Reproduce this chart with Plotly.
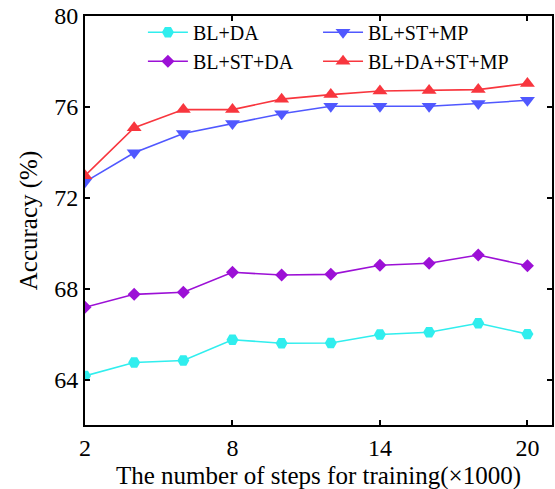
import plotly.graph_objects as go

steps = [2, 4, 6, 8, 10, 12, 14, 16, 18, 20]
bl_da = [64.16, 64.75, 64.84, 65.75, 65.60, 65.61, 65.98, 66.08, 66.48, 66.00]
bl_st_da = [67.18, 67.75, 67.84, 68.72, 68.60, 68.63, 69.03, 69.12, 69.48, 69.01]
bl_st_mp = [72.70, 73.98, 74.83, 75.27, 75.70, 76.03, 76.03, 76.03, 76.15, 76.29]
bl_da_st_mp = [72.97, 75.08, 75.88, 75.88, 76.34, 76.54, 76.70, 76.72, 76.76, 77.03]

xticks = [2, 8, 14, 20]
yticks = [64, 68, 72, 76, 80]

FONT = "Liberation Serif, Times New Roman, serif"

series = [
    ("BL+DA", bl_da, "#30EEEE", "hexagon2", 12, "legend"),
    ("BL+ST+DA", bl_st_da, "#9C10D6", "diamond", 10, "legend2"),
    ("BL+ST+MP", bl_st_mp, "#5058FF", "triangle-down", 13, "legend3"),
    ("BL+DA+ST+MP", bl_da_st_mp, "#F8363E", "triangle-up", 13, "legend4"),
]

fig = go.Figure()
for name, ys, color, sym, size, lg in series:
    fig.add_trace(go.Scatter(
        x=steps, y=ys, name=name, mode="lines+markers",
        line=dict(color=color, width=1.6),
        marker=dict(symbol=sym, size=size, color=color, line=dict(width=0)),
        legend=lg,
    ))

def leg(x, y):
    return dict(x=x, y=y, xanchor="left", yanchor="middle",
                bgcolor="rgba(0,0,0,0)", borderwidth=0,
                font=dict(family=FONT, size=20, color="black"),
                itemwidth=40)

fig.update_layout(
    width=555, height=489,
    margin=dict(l=85, r=3, t=16, b=64, autoexpand=False),
    paper_bgcolor="white", plot_bgcolor="white",
    font=dict(family=FONT, color="black"),
    showlegend=True,
    legend=leg(0.124, 0.9604),
    legend2=leg(0.124, 0.8894),
    legend3=leg(0.499, 0.9604),
    legend4=leg(0.499, 0.8894),
    xaxis=dict(
        range=[2, 21], tickvals=xticks, ticks="inside", ticklen=5,
        tickwidth=1.5, tickcolor="black",
        showline=True, linecolor="black", linewidth=1.8, mirror="ticks",
        showgrid=False, zeroline=False, ticklabeloverflow="allow",
        tickfont=dict(family=FONT, size=24, color="black"),
    ),
    yaxis=dict(
        range=[62, 80], tickvals=yticks, ticks="inside", ticklen=5,
        tickwidth=1.5, tickcolor="black",
        showline=True, linecolor="black", linewidth=1.8, mirror="ticks",
        showgrid=False, zeroline=False, ticklabeloverflow="allow",
        tickfont=dict(family=FONT, size=24, color="black"),
        title=dict(text="Accuracy (%)",
                   font=dict(family=FONT, size=25, color="black"), standoff=10),
    ),
    annotations=[dict(
        text="The number of steps for training(×1000)",
        xref="paper", yref="paper", x=0.5, y=-0.124,
        xanchor="center", yanchor="middle", showarrow=False,
        font=dict(family=FONT, size=25, color="black"),
    )],
)

fig.write_html("out.html", config={"displayModeBar": False},
               post_script="document.body.style.margin='0';")
